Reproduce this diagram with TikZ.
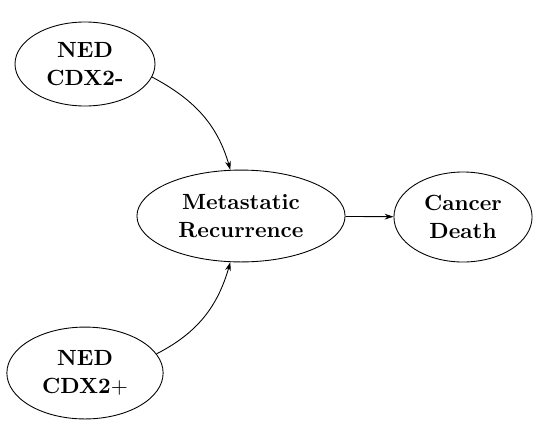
\documentclass[tikz,border=0pt]{standalone}
\usetikzlibrary{shapes.geometric,arrows.meta}
\tikzset{
  estado/.style={draw, ellipse, thin, inner sep=0pt, align=center, font=\bfseries\fontsize{10}{12.8}\selectfont},
  flecha/.style={thin, -{Stealth[length=4pt,width=2.6pt]}}
}
\begin{document}
\begin{tikzpicture}
    \useasboundingbox (0,0) rectangle (8.64,6.848);
    % Nodos
    \node[estado, minimum width=2.24cm, minimum height=1.344cm] (nedneg) at (1.36,5.824) {NED\\CDX2-};
    \node[estado, minimum width=3.33cm, minimum height=1.47cm] (meta) at (3.856,3.392) {Metastatic\\Recurrence};
    \node[estado, minimum width=2.21cm, minimum height=1.44cm] (muerte) at (7.408,3.376) {Cancer\\Death};
    \node[estado, minimum width=2.5cm, minimum height=1.47cm] (nedpos) at (1.36,0.88) {NED\\CDX2$+$};
    % Flechas
    \draw[flecha] (nedneg.-11) to[out=-28, in=106] (meta.103);
    \draw[flecha] (nedpos.15) to[out=27, in=-106] (meta.-103);
    \draw[flecha] (meta) -- (muerte);
\end{tikzpicture}
\end{document}
